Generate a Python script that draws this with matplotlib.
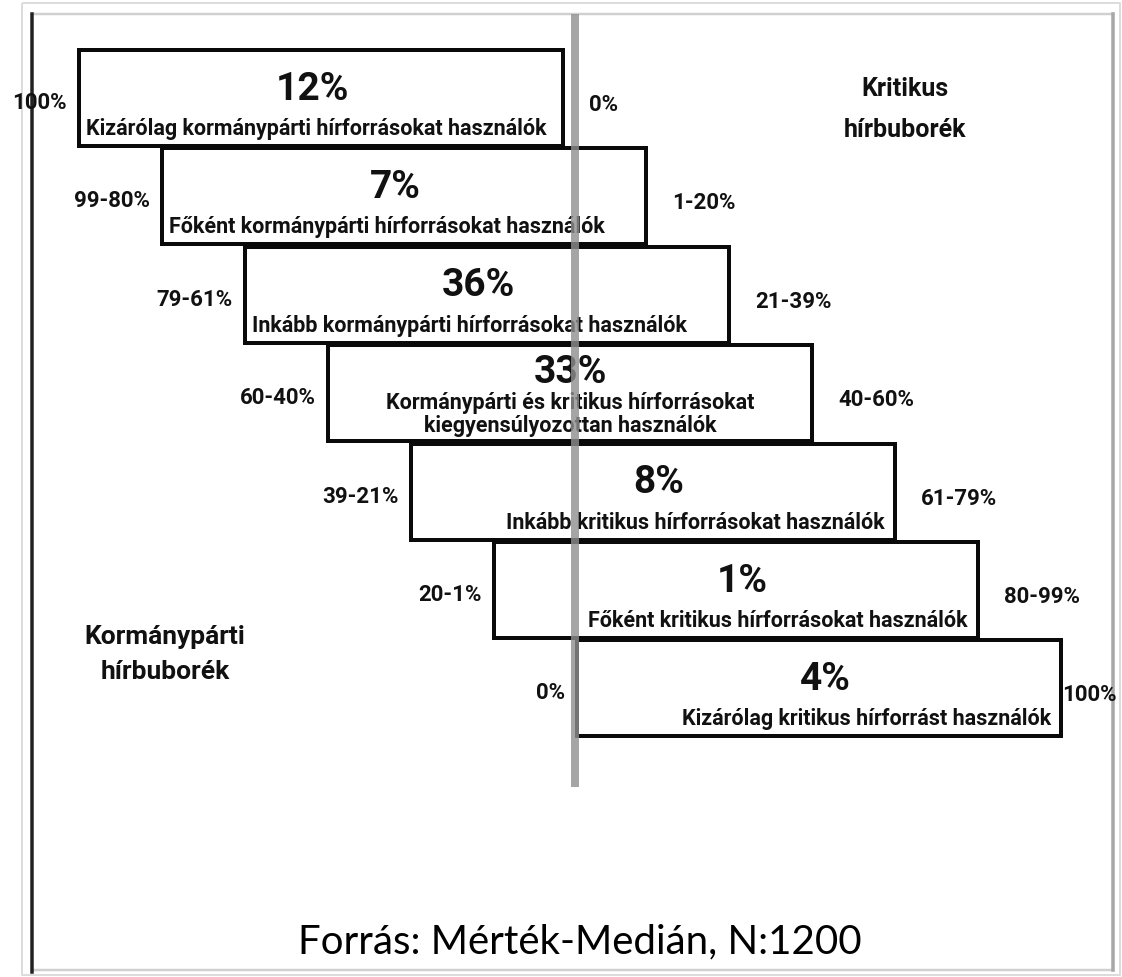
import matplotlib
matplotlib.use("Agg")
import matplotlib.pyplot as plt
from matplotlib.patches import Rectangle

# ---- data ----
shares = [12, 7, 36, 33, 8, 1, 4]
categories = [
    "Kizárólag kormánypárti hírforrásokat használók",
    "Főként kormánypárti hírforrásokat használók",
    "Inkább kormánypárti hírforrásokat használók",
    "Kormánypárti és kritikus hírforrásokat\nkiegyensúlyozottan használók",
    "Inkább kritikus hírforrásokat használók",
    "Főként kritikus hírforrásokat használók",
    "Kizárólag kritikus hírforrást használók",
]
left_ranges = ["100%", "99-80%", "79-61%", "60-40%", "39-21%", "20-1%", "0%"]
right_ranges = ["0%", "1-20%", "21-39%", "40-60%", "61-79%", "80-99%", "100%"]
left_title = ["Kormánypárti", "hírbuborék"]
right_title = ["Kritikus", "hírbuborék"]
source = "Forrás: Mérték-Medián, N:1200"

# ---- layout (pixel space) ----
W, H = 1122, 978
X0, XSTEP = 79, 83
Y0, YSTEP = 51, 98.4
BOX_W, BOX_H = 484, 96
PX = 0.72  # points per pixel at dpi 100

fig = plt.figure(figsize=(W / 100, H / 100), dpi=100)
ax = fig.add_axes([0, 0, 1, 1])
ax.set_xlim(0, W)
ax.set_ylim(H, 0)
ax.axis("off")

bold = dict(family=["Roboto", "DejaVu Sans"], fontweight="bold", color="#111111")

# frame
ax.plot([22, 1120, 1120, 22, 22], [4, 4, 976, 976, 4], color="#dcdcdc", lw=2 * PX, solid_capstyle="butt")
ax.plot([32, 1113], [15, 15], color="#d0d0d0", lw=2.5 * PX)
ax.plot([32, 1113], [971, 971], color="#d0d0d0", lw=2.5 * PX)
ax.plot([1113, 1113], [15, 971], color="#a8a8a8", lw=3.5 * PX)
ax.plot([32, 32], [15, 973], color="#222222", lw=3.5 * PX)

n = len(shares)
mid = n // 2
for i, (s, cat, lr, rr) in enumerate(zip(shares, categories, left_ranges, right_ranges)):
    left = X0 + XSTEP * i
    top = Y0 + YSTEP * i
    right = left + BOX_W
    ax.add_patch(Rectangle((left, top), BOX_W, BOX_H, fill=False,
                           edgecolor="#0a0a0a", lw=4 * PX, zorder=3))
    cx = left + BOX_W / 2
    two_lines = "\n" in cat
    shift = -9 if i < mid else (6 if i > mid else 0)
    ax.text(cx + shift, top + (26 if two_lines else 38), f"{s}%", ha="center", va="center",
            fontsize=28, zorder=4, **bold)
    if i < mid:
        lx, ha = left + 7, "left"
    elif i > mid:
        lx, ha = right - 10, "right"
    else:
        lx, ha = cx, "center"
    ax.text(lx, top + (68 if two_lines else 78), cat, ha=ha, va="center",
            fontsize=15.5, linespacing=1.05, zorder=4, multialignment="center", **bold)
    ax.text(left - 12, top + 52, lr, ha="right", va="center", fontsize=16, **bold)
    gap = min(26, W - 60 - right)
    ax.text(right + gap, top + 54, rr, ha="left", va="center", fontsize=16, **bold)

# centre line
ax.plot([575, 575], [15, 788], color="#8f8f8f", lw=8 * PX, alpha=0.8,
        solid_capstyle="butt", zorder=5)

ax.text(905, 89, right_title[0], ha="center", va="center", fontsize=18, **bold)
ax.text(905, 130, right_title[1], ha="center", va="center", fontsize=18, **bold)
ax.text(165, 637, left_title[0], ha="center", va="center", fontsize=19, **bold)
ax.text(165, 672, left_title[1], ha="center", va="center", fontsize=19, **bold)

ax.text(580, 942, source, ha="center", va="center", fontsize=29,
        family=["Lato", "DejaVu Sans"], color="#000000")

fig.savefig("out.png", dpi=100)
